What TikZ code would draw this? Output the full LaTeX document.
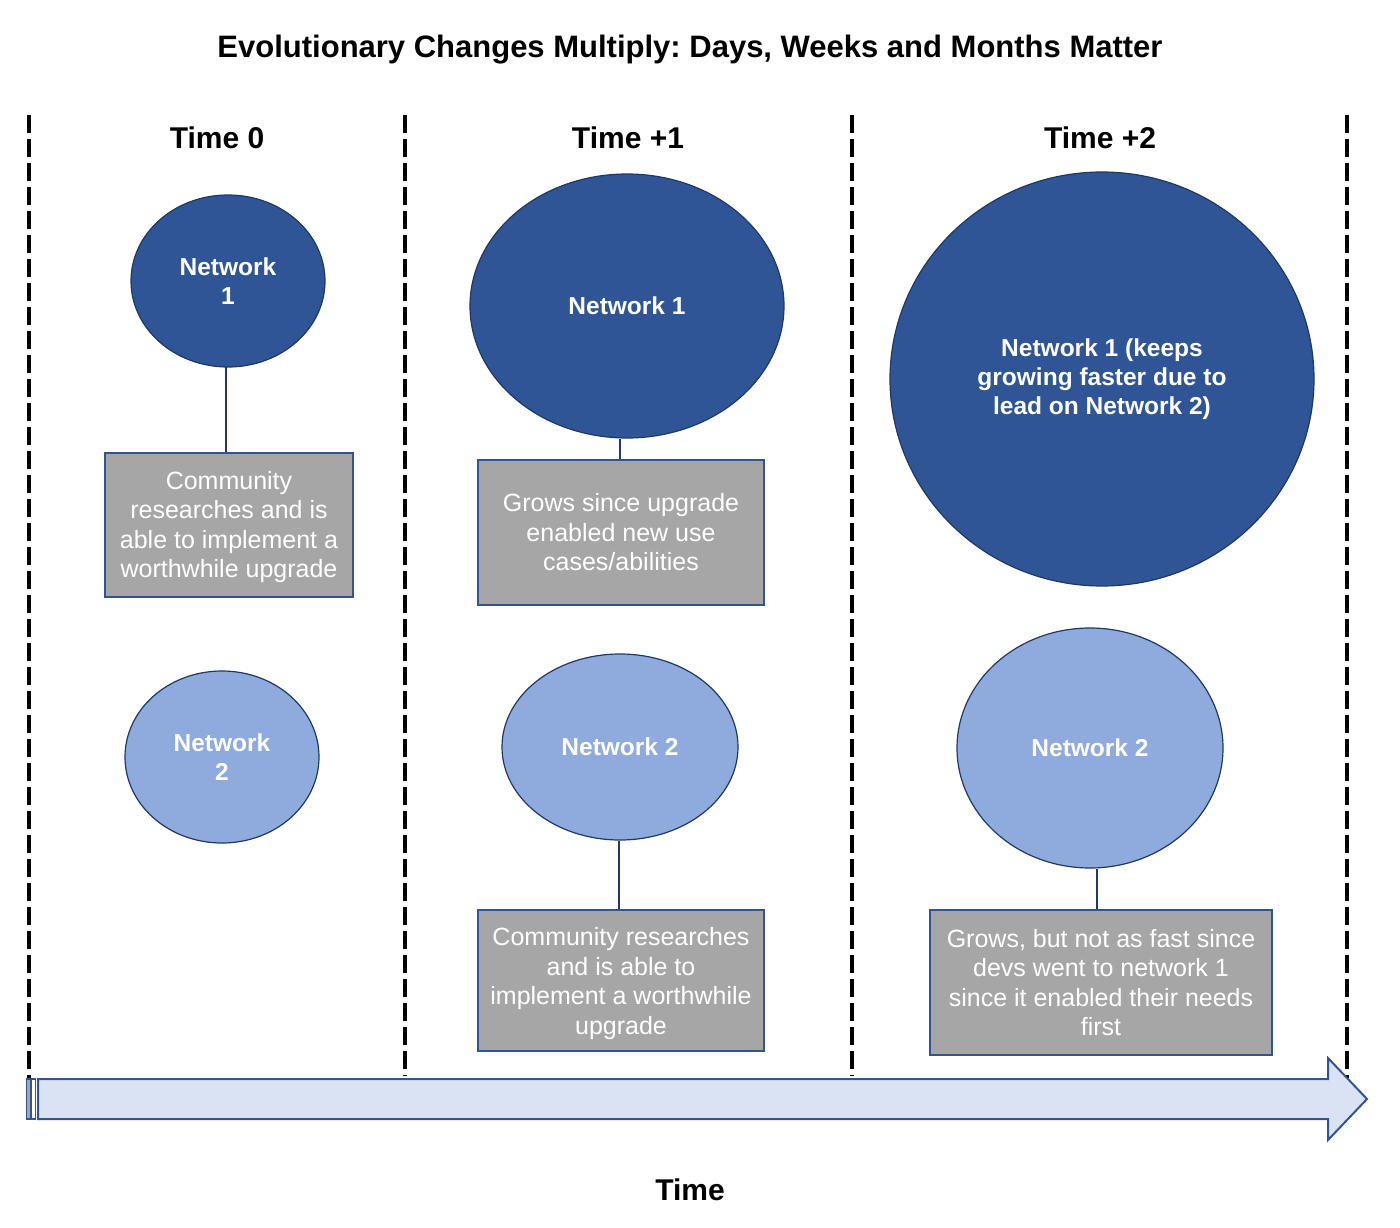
\documentclass[tikz,border=0pt]{standalone}
\usepackage{fontspec}
\setmainfont{Liberation Sans}
\usetikzlibrary{shapes.geometric}
\definecolor{dblue}{HTML}{2F5597}
\definecolor{lblue}{HTML}{8FAADC}
\definecolor{edgeblue}{HTML}{203864}
\definecolor{boxgray}{HTML}{A6A6A6}
\definecolor{arrowfill}{HTML}{DAE3F3}
\frenchspacing
\tikzset{
  darknet/.style={ellipse, draw=edgeblue, line width=1.2pt, fill=dblue, text=white, inner sep=0pt, align=center, font=\bfseries\fontsize{24.5}{29}\selectfont},
  lightnet/.style={ellipse, draw=edgeblue, line width=1.2pt, fill=lblue, text=white, inner sep=0pt, align=center, font=\bfseries\fontsize{24.5}{29}\selectfont},
  infobox/.style={rectangle, draw=dblue, line width=2pt, fill=boxgray, text=white, inner sep=0pt, align=center, font=\fontsize{25}{29.5}\selectfont},
  divider/.style={line width=4pt, dash pattern=on 18pt off 6pt},
  link/.style={draw=edgeblue, line width=1.5pt},
  heading/.style={font=\bfseries\fontsize{30}{36}\selectfont}
}
\newcommand{\downtext}[3]{\raisebox{-#1}[\height][\depth]{\parbox{#2}{\centering #3}}}
\begin{document}
\begin{tikzpicture}[x=1pt,y=-1pt]
\useasboundingbox (0,0) rectangle (1400,1228);
% title
\node[font=\bfseries\fontsize{31}{37}\selectfont] (title) at (690,50) {Evolutionary Changes Multiply: Days, Weeks and Months Matter};
% dividers
\coordinate (d0t) at (29,115); \coordinate (d0b) at (29,1078);
\coordinate (d1t) at (405,115); \coordinate (d1b) at (405,1076);
\coordinate (d2t) at (852,115); \coordinate (d2b) at (852,1076);
\coordinate (d3t) at (1347,115); \coordinate (d3b) at (1347,1078);
\draw[divider] (d0t) -- (d0b);
\draw[divider] (d1t) -- (d1b);
\draw[divider] (d2t) -- (d2b);
\draw[divider] (d3t) -- (d3b);
% headings
\node[heading] (h0) at (217,138) {Time 0};
\node[heading] (h1) at (628,138) {Time +1};
\node[heading] (h2) at (1100,138) {Time +2};
% Time 0
\node[darknet, minimum width=194pt, minimum height=172pt] (n1a) at (228,281) {Network\\1};
\node[infobox, minimum width=248pt, minimum height=144pt] (b1a) at (229,525) {\downtext{2pt}{240pt}{Community\\researches and is\\able to implement a\\worthwhile upgrade}};
\node[lightnet, minimum width=194pt, minimum height=172pt] (n2a) at (222,757) {Network\\2};
\draw[link] (b1a.north -| 226,0) -- (226,367);
% Time +1
\node[darknet, minimum width=314pt, minimum height=264pt] (n1b) at (627,306) {Network 1};
\node[infobox, minimum width=286pt, minimum height=145pt] (b1b) at (621,532.5) {Grows since upgrade\\enabled new use\\cases/abilities};
\node[lightnet, minimum width=236pt, minimum height=186pt] (n2b) at (620,747) {Network 2};
\node[infobox, minimum width=286pt, minimum height=141pt] (b2b) at (621,980.5) {\downtext{3pt}{280pt}{Community researches\\and is able to\\implement a worthwhile\\upgrade}};
\draw[link] (b1b.north -| 620,0) -- (n1b.south -| 620,0);
\draw[link] (b2b.north -| 619,0) -- (619,841);
% Time +2
\node[darknet, minimum width=424pt, minimum height=414pt] (n1c) at (1102,379) {Network 1 (keeps\\growing faster due to\\lead on Network 2)};
\node[lightnet, minimum width=266pt, minimum height=240pt] (n2c) at (1090,748) {Network 2};
\node[infobox, minimum width=342pt, minimum height=145pt] (b2c) at (1101,982.5) {Grows, but not as fast since\\devs went to network 1\\since it enabled their needs\\first};
\draw[link] (b2c.north -| 1097,0) -- (1097,869);
% time arrow
\coordinate (tip) at (1367,1099);
\draw[draw=dblue, line width=2pt, fill=arrowfill, line join=miter]
  (38,1079) -- (1328,1079) -- (1328,1058) -- (tip) -- (1328,1140) -- (1328,1119) -- (38,1119) -- cycle;
\draw[draw=dblue, line width=1.5pt, fill=boxgray] (26.5,1079) rectangle (30.5,1119);
\draw[draw=dblue, line width=1.5pt, fill=white] (31.5,1079) rectangle (35.5,1119);
\node[heading] (tl) at (690,1190) {Time};
\end{tikzpicture}
\end{document}
